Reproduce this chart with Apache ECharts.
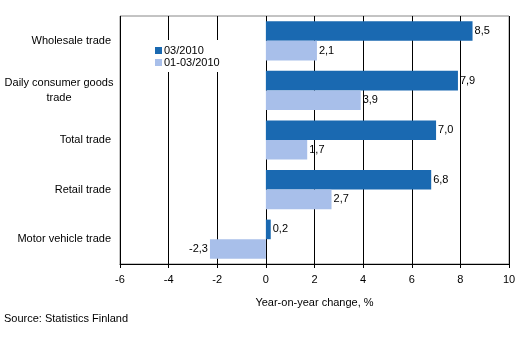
<!DOCTYPE html>
<html><head><meta charset="utf-8">
<script src="https://cdn.jsdelivr.net/npm/echarts@6/dist/echarts.min.js"></script>
<style>html,body{margin:0;padding:0;background:#fff}#c{width:531px;height:358px}</style>
</head><body><div id="c"></div>
<script>
const categories = ['Wholesale trade', 'Daily consumer goods trade', 'Total trade', 'Retail trade', 'Motor vehicle trade'];
const seriesNames = ['03/2010', '01-03/2010'];
const march = [8.5, 7.9, 7.0, 6.8, 0.2];
const janMar = [2.1, 3.9, 1.7, 2.7, -2.3];
const xTicks = [-6, -4, -2, 0, 2, 4, 6, 8, 10];

const font = 'Liberation Sans, Arial, sans-serif';
const chart = echarts.init(document.getElementById('c'), null, {renderer: 'canvas'});
const fmt = v => v.toFixed(1).replace('.', ',');
function lbl() {
  return {
    show: true,
    position: 'right',
    distance: 2,
    color: '#000',
    fontFamily: font,
    fontSize: 11,
    formatter: p => fmt(p.value)
  };
}
chart.setOption({
  animation: false,
  textStyle: {fontFamily: font},
  grid: {left: 120, right: 22, top: 16, bottom: 94, containLabel: false, show: true, borderColor: '#888', borderWidth: 1},
  legend: {
    orient: 'vertical', left: 147, top: 40, itemWidth: 7, itemHeight: 7, itemGap: 1,
    icon: 'rect', backgroundColor: '#fff', padding: [5, 8, 4, 8],
    textStyle: {fontFamily: font, fontSize: 11, color: '#000', padding: [0, 0, 0, -3]},
    data: seriesNames
  },
  xAxis: {
    type: 'value', min: xTicks[0], max: xTicks[xTicks.length - 1], interval: 2,
    name: 'Year-on-year change, %', nameLocation: 'middle', nameGap: 33,
    nameTextStyle: {fontFamily: font, fontSize: 11, color: '#000'},
    axisLine: {show: true, onZero: false, lineStyle: {color: '#000'}},
    axisTick: {show: true, length: 4, lineStyle: {color: '#000'}},
    axisLabel: {fontFamily: font, fontSize: 11, color: '#000', margin: 10},
    splitLine: {show: true, lineStyle: {color: '#000', width: 1}}
  },
  yAxis: {
    type: 'category', inverse: true, data: categories,
    axisLine: {show: false}, axisTick: {show: false},
    axisLabel: {
      fontFamily: font, fontSize: 11, color: '#000', margin: 9,
      formatter: v => v === 'Daily consumer goods trade' ? '{c|Daily consumer goods\ntrade}' : v,
      rich: {c: {align: 'center', width: 104, fontFamily: font, fontSize: 11, color: '#000', lineHeight: 15}}
    }
  },
  series: [
    {name: seriesNames[0], type: 'bar', data: march, barGap: '0%', barCategoryGap: '21%',
     itemStyle: {color: '#1a69b1'}, label: lbl()},
    {name: seriesNames[1], type: 'bar', data: janMar.map(v => ({value: v, label: v < 0 ? {position: 'left'} : {}})),
     itemStyle: {color: '#a8bfea'}, label: lbl()}
  ],
  graphic: [{type: 'text', left: 4, top: 313, style: {text: 'Source: Statistics Finland', fontFamily: font, fontSize: 11, fill: '#000'}}]
});
</script></body></html>
